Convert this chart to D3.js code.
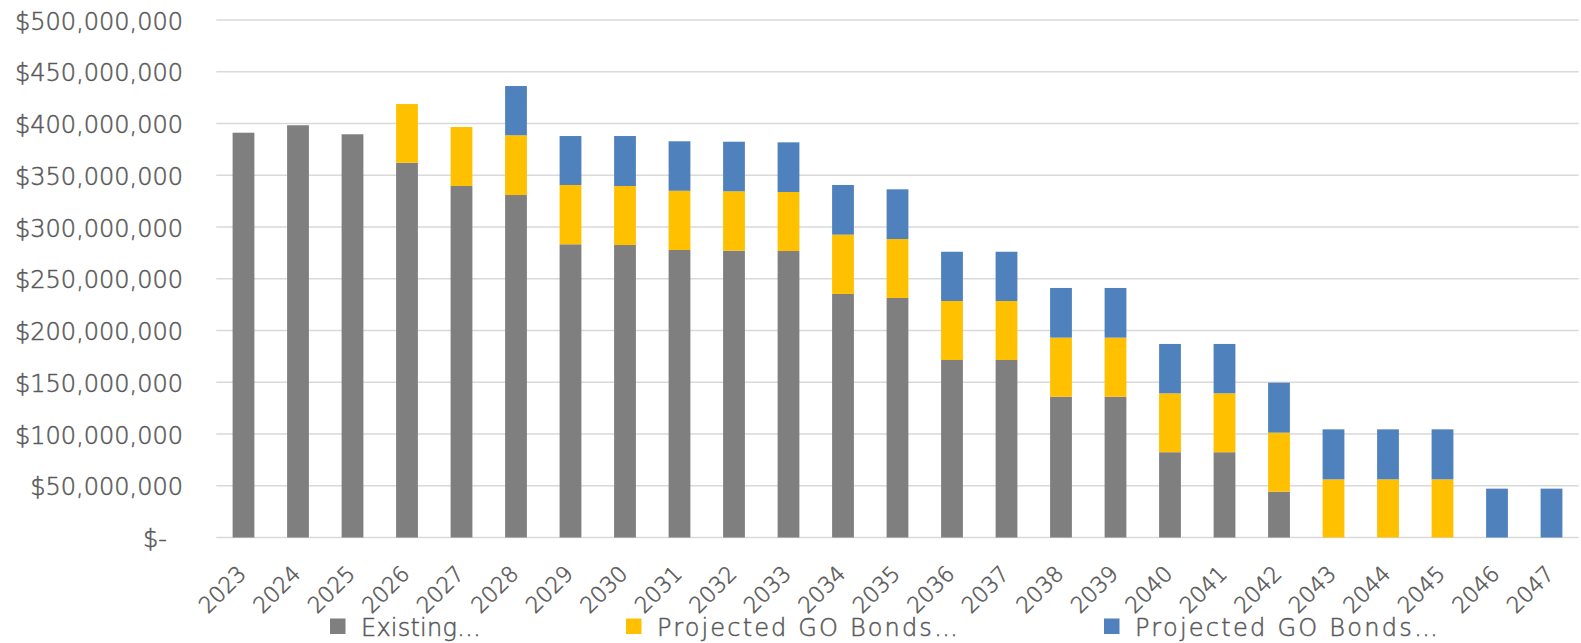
<!DOCTYPE html>
<html>
<head>
<meta charset="utf-8">
<script src="https://cdn.jsdelivr.net/npm/d3@7"></script>
<style>
  body { margin: 0; background: #fff; }
  svg { display: block; font-family: "DejaVu Sans", sans-serif; font-weight: 300; }
  text { stroke: #595959; stroke-width: 0.5px; }
</style>
</head>
<body>
<svg id="chart"></svg>
<script>
// data (values in $ millions)
const years = ["2023","2024","2025","2026","2027","2028","2029","2030","2031","2032","2033","2034","2035",
  "2036","2037","2038","2039","2040","2041","2042","2043","2044","2045","2046","2047"];
const existing = [391.1,398.3,389.6,362.1,339.6,330.9,283.3,282.6,277.8,277.1,276.8,235.3,231.4,
  171.5,171.5,136.0,136.0,82.4,82.4,44.3,0,0,0,0,0];
const projectedA = [0,0,0,56.7,57.0,57.7,57.3,57.0,57.2,57.4,57.0,57.3,57.0,
  57.0,57.0,57.1,57.1,56.9,56.9,57.0,56.2,56.2,56.2,0,0];
const projectedB = [0,0,0,0,0,47.6,47.3,48.3,47.8,47.9,48.0,48.0,48.0,
  47.6,47.6,48.0,48.0,47.7,47.7,48.3,48.3,48.3,48.3,47.2,47.2];
const seriesNames = ["Existing…", "Projected GO Bonds…", "Projected GO Bonds…"];
const yTicks = [0,50,100,150,200,250,300,350,400,450,500];

const width = 1581, height = 643;
const plotLeft = 216.25, plotRight = 1578.75, plotTop = 20, plotBottom = 537.5;
const colors = ["#7f7f7f", "#ffc000", "#4f81bd"];
const textColor = "#595959";

const svg = d3.select("#chart").attr("width", width).attr("height", height);

const x = d3.scaleBand().domain(years).range([plotLeft, plotRight]).paddingInner(0.6).paddingOuter(0.3);
const y = d3.scaleLinear().domain([0, 500]).range([plotBottom, plotTop]);

const fmt = d3.format(",");

// gridlines
svg.append("g")
  .selectAll("line")
  .data(yTicks)
  .join("line")
  .attr("x1", plotLeft).attr("x2", plotRight)
  .attr("y1", d => y(d)).attr("y2", d => y(d))
  .attr("stroke", "#d9d9d9")
  .attr("stroke-width", 1.5);

// y labels
svg.append("g")
  .selectAll("text")
  .data(yTicks)
  .join("text")
  .attr("x", d => d === 0 ? 167 : 183)
  .attr("y", d => y(d) + 9.5)
  .attr("text-anchor", "end")
  .attr("font-size", 24)
  .attr("fill", textColor)
  .text(d => d === 0 ? "$-" : "$" + fmt(d * 1e6));

// stacked bars
const rows = years.map((yr, i) => ({ year: yr, s0: existing[i], s1: projectedA[i], s2: projectedB[i] }));
const stack = d3.stack().keys(["s0", "s1", "s2"]);
const layers = stack(rows);

svg.append("g")
  .selectAll("g")
  .data(layers)
  .join("g")
  .attr("fill", (d, i) => colors[i])
  .selectAll("rect")
  .data(d => d.filter(p => p[1] - p[0] > 0))
  .join("rect")
  .attr("x", d => x(d.data.year))
  .attr("width", x.bandwidth())
  .attr("y", d => y(d[1]))
  .attr("height", d => y(d[0]) - y(d[1]));

// x labels
svg.append("g")
  .selectAll("text")
  .data(years)
  .join("text")
  .attr("transform", d => `translate(${x(d) + x.bandwidth() / 2 + 4},575) rotate(-45)`)
  .attr("text-anchor", "end")
  .attr("font-size", 22)
  .attr("fill", textColor)
  .text(d => d);

// legend
const legendX = [330, 626, 1104];
const legendW = [120, 301, 303];
const legend = svg.append("g")
  .selectAll("g")
  .data(seriesNames)
  .join("g")
  .attr("transform", (d, i) => `translate(${legendX[i]},0)`);

legend.append("rect")
  .attr("x", 0).attr("y", 618.5)
  .attr("width", 15.5).attr("height", 15.5)
  .attr("fill", (d, i) => colors[i]);

legend.append("text")
  .attr("x", 31)
  .attr("y", 636)
  .attr("font-size", 24)
  .attr("fill", textColor)
  .attr("textLength", (d, i) => legendW[i])
  .attr("lengthAdjust", "spacing")
  .text(d => d);
</script>
</body>
</html>
